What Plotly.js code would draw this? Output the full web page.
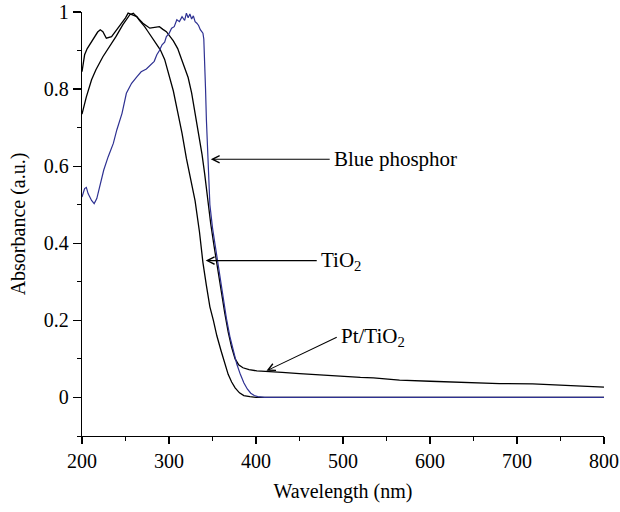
<!DOCTYPE html>
<html>
<head>
<meta charset="utf-8">
<script src="https://cdn.plot.ly/plotly-3.0.1.min.js"></script>
<style>html,body{margin:0;padding:0;background:#fff;}#chart{width:620px;height:512px;}</style>
</head>
<body>
<div id="chart"></div>
<script>
// Blue phosphor
const blueX = [200,203,205,207,211,214,217,221,225,230,236,240,246,251,257,263,268,274,280,283,286,289,292,295,297,300,303,306,309,312,315,318,320,322,324,326,328,330,332,334,336,338,339,340,341,342,343,345,347,350,354,358,362,366,370,374,378,382,386,390,394,398,402,410,450,500,550,600,650,700,750,800];
const blueY = [0.52,0.542,0.545,0.529,0.511,0.503,0.516,0.555,0.59,0.624,0.659,0.694,0.737,0.789,0.815,0.832,0.845,0.852,0.865,0.872,0.889,0.9,0.915,0.922,0.936,0.944,0.958,0.962,0.98,0.975,0.988,0.978,0.997,0.985,0.995,0.982,0.99,0.975,0.971,0.965,0.954,0.948,0.945,0.93,0.88,0.8,0.72,0.6,0.5,0.44,0.38,0.32,0.26,0.205,0.158,0.118,0.086,0.06,0.038,0.022,0.011,0.005,0.002,0,0,0,0,0,0,0,0,0];
// TiO2
const tioX = [200,203,206,209,212,215,218,221,224,228,231,234,237,240,243,246,250,253,257,260,263,266,269,272,275,280,285,290,295,300,305,310,315,320,325,330,335,339,343,347,351,355,360,364,368,372,376,381,386,393,400,450,500,550,600,650,700,750,800];
const tioY = [0.845,0.889,0.905,0.915,0.925,0.936,0.948,0.954,0.949,0.932,0.935,0.936,0.945,0.954,0.963,0.971,0.985,0.997,0.994,0.99,0.988,0.978,0.971,0.962,0.952,0.936,0.92,0.902,0.877,0.835,0.795,0.74,0.685,0.62,0.565,0.51,0.43,0.35,0.29,0.235,0.2,0.16,0.12,0.09,0.06,0.04,0.025,0.012,0.005,0.002,0,0,0,0,0,0,0,0,0];
// Pt/TiO2
const ptX = [200,205,211,216,224,232,239,247,255,259,264,270,278,284,289,293,297,305,310,314,318,322,326,330,334,338,341,344,348,352,356,360,364,368,372,376,380,385,392,401,412,430,450,475,497,520,535,550,565,600,642,680,718,760,800];
const ptY = [0.735,0.78,0.824,0.85,0.884,0.91,0.936,0.967,0.993,0.997,0.985,0.971,0.958,0.96,0.962,0.955,0.949,0.925,0.905,0.88,0.855,0.83,0.79,0.74,0.69,0.63,0.58,0.52,0.45,0.39,0.33,0.27,0.22,0.17,0.13,0.1,0.085,0.077,0.072,0.069,0.068,0.065,0.062,0.058,0.054,0.052,0.051,0.048,0.045,0.042,0.038,0.036,0.035,0.031,0.027];

const labels = ["Blue phosphor", "TiO<sub>2</sub>", "Pt/TiO<sub>2</sub>"];

const FONT = "Liberation Serif, Times New Roman, serif";

const traces = [
  {x: tioX, y: tioY, mode: 'lines', line: {color: '#000000', width: 1.3}, name: 'TiO2'},
  {x: ptX, y: ptY, mode: 'lines', line: {color: '#000000', width: 1.3}, name: 'Pt/TiO2'},
  {x: blueX, y: blueY, mode: 'lines', line: {color: '#2e3192', width: 1.2}, name: 'Blue phosphor'}
];

function callout(x, y, ax, ay, t) {
  return {x: x, y: y, ax: ax, ay: ay, xref: 'x', yref: 'y', axref: 'x', ayref: 'y',
    text: t, showarrow: true, arrowhead: 5, arrowsize: 1.3, arrowwidth: 1.1, arrowcolor: '#000',
    xanchor: 'left', yanchor: 'middle', borderpad: 3,
    font: {family: FONT, size: 21, color: '#000'}};
}

const layout = {
  width: 620, height: 512,
  margin: {l: 82, r: 16, t: 12, b: 76},
  paper_bgcolor: '#fff', plot_bgcolor: '#fff',
  showlegend: false,
  font: {family: FONT, size: 20, color: '#000'},
  xaxis: {
    range: [200, 800], dtick: 100, tick0: 200,
    showgrid: false, zeroline: false, showline: true, linecolor: '#000', linewidth: 1.2,
    ticks: 'outside', ticklen: 7, tickwidth: 1.2, tickcolor: '#000',
    minor: {dtick: 50, ticklen: 4, tickwidth: 1, tickcolor: '#000', ticks: 'outside'},
    tickfont: {family: FONT, size: 20},
    title: {text: 'Wavelength (nm)', font: {family: FONT, size: 20}, standoff: 12}
  },
  yaxis: {
    range: [-0.1, 1.0], dtick: 0.2, tick0: 0,
    showgrid: false, zeroline: false, showline: true, linecolor: '#000', linewidth: 1.2,
    ticks: 'outside', ticklen: 8, tickwidth: 1.2, tickcolor: '#000',
    minor: {dtick: 0.1, ticklen: 4, tickwidth: 1, tickcolor: '#000', ticks: 'outside'},
    tickfont: {family: FONT, size: 20},
    title: {text: 'Absorbance (a.u.)', font: {family: FONT, size: 20}, standoff: 12}
  },
  annotations: [
    callout(348, 0.618, 484.7, 0.618, labels[0]),
    callout(342.2, 0.355, 469.8, 0.355, labels[1]),
    callout(412, 0.069, 492.8, 0.156, labels[2])
  ]
};

Plotly.newPlot('chart', traces, layout, {displayModeBar: false, staticPlot: true});
</script>
</body>
</html>
